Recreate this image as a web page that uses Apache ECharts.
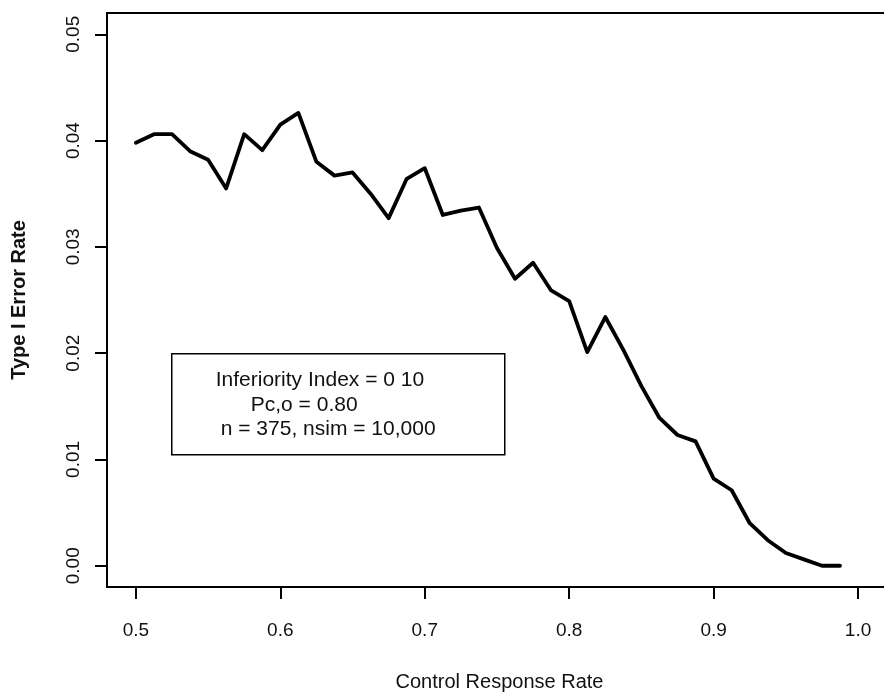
<!DOCTYPE html>
<html>
<head>
<meta charset="utf-8">
<script src="https://cdn.jsdelivr.net/npm/echarts@6/dist/echarts.min.js"></script>
<style>
  html, body { margin: 0; padding: 0; background: #fff; }
  #chart { width: 884px; height: 694px; }
</style>
</head>
<body>
<div id="chart"></div>
<script>
// Control response rate (x) and simulated type I error rate (y)
const controlRate = [
  0.5, 0.5125, 0.525, 0.5375, 0.55, 0.5625, 0.575, 0.5875, 0.6, 0.6125,
  0.625, 0.6375, 0.65, 0.6625, 0.675, 0.6875, 0.7, 0.7125, 0.725, 0.7375,
  0.75, 0.7625, 0.775, 0.7875, 0.8, 0.8125, 0.825, 0.8375, 0.85, 0.8625,
  0.875, 0.8875, 0.9, 0.9125, 0.925, 0.9375, 0.95, 0.9625, 0.975, 0.9875
];
const typeIError = [
  0.0398, 0.0406, 0.0406, 0.0390, 0.0382, 0.0355, 0.0406, 0.0391, 0.0415, 0.0426,
  0.0380, 0.0367, 0.0370, 0.0350, 0.0327, 0.0364, 0.0374, 0.0330, 0.0334, 0.0337,
  0.0299, 0.0270, 0.0285, 0.0259, 0.0249, 0.0201, 0.0234, 0.0203, 0.0169, 0.0139,
  0.0123, 0.0117, 0.0082, 0.0071, 0.0040, 0.0024, 0.0012, 0.0006, 0.0000, 0.0000
];
const xTicks = [0.5, 0.6, 0.7, 0.8, 0.9, 1.0];
const yTicks = [0.00, 0.01, 0.02, 0.03, 0.04, 0.05];
const noteLines = [
  'Inferiority Index = 0 10',
  'Pc,o = 0.80',
  'n = 375, nsim = 10,000'
];

const FONT = '"Liberation Sans", Arial, Helvetica, sans-serif';
const chart = echarts.init(document.getElementById('chart'), null, { renderer: 'canvas' });

chart.setOption({
  backgroundColor: '#fff',
  animation: false,
  // plot frame runs past the right edge of the canvas
  grid: {
    left: 107, top: 13, right: -8, bottom: 107,
    outerBoundsMode: 'none', containLabel: false,
    show: true, borderColor: '#000', borderWidth: 2, backgroundColor: 'transparent'
  },
  xAxis: {
    type: 'value', min: 0.48, max: 1.0235,
    name: 'Control Response Rate',
    nameLocation: 'middle', nameGap: 85,
    nameTextStyle: { fontFamily: FONT, fontSize: 20, color: '#111' },
    axisLine: { show: true, onZero: false, lineStyle: { color: '#000', width: 2 } },
    axisTick: { show: true, length: 12, customValues: xTicks, lineStyle: { color: '#000', width: 2 } },
    axisLabel: {
      customValues: xTicks, margin: 34,
      fontFamily: FONT, fontSize: 19, color: '#111',
      formatter: v => v.toFixed(1)
    },
    splitLine: { show: false }
  },
  yAxis: {
    type: 'value', min: -0.002, max: 0.052,
    name: 'Type I Error Rate',
    nameLocation: 'middle', nameGap: 78, nameRotate: 90,
    nameTextStyle: { fontFamily: FONT, fontSize: 20, fontWeight: 'bold', color: '#111' },
    axisLine: { show: true, onZero: false, lineStyle: { color: '#000', width: 2 } },
    axisTick: { show: true, length: 12, customValues: yTicks, lineStyle: { color: '#000', width: 2 } },
    axisLabel: {
      customValues: yTicks, margin: 24, rotate: 90,
      fontFamily: FONT, fontSize: 19, color: '#111',
      formatter: v => v.toFixed(2)
    },
    splitLine: { show: false }
  },
  series: [{
    type: 'line',
    data: controlRate.map((x, i) => [x, typeIError[i]]),
    showSymbol: false,
    symbol: 'none',
    lineStyle: { color: '#000', width: 3.8, join: 'round', cap: 'round' },
    z: 5
  }],
  graphic: [{
    type: 'group',
    left: 171, top: 353,
    children: [
      {
        type: 'rect',
        shape: { x: 0, y: 0, width: 333, height: 101 },
        style: { fill: '#fff', stroke: '#000', lineWidth: 1.5 }
      },
      {
        type: 'text', x: 44, y: 26,
        style: { text: noteLines[0], font: '21px ' + FONT, fill: '#111', textVerticalAlign: 'middle' }
      },
      {
        type: 'text', x: 79, y: 51,
        style: { text: noteLines[1], font: '21px ' + FONT, fill: '#111', textVerticalAlign: 'middle' }
      },
      {
        type: 'text', x: 49, y: 75,
        style: { text: noteLines[2], font: '21px ' + FONT, fill: '#111', textVerticalAlign: 'middle' }
      }
    ]
  }]
});
</script>
</body>
</html>
